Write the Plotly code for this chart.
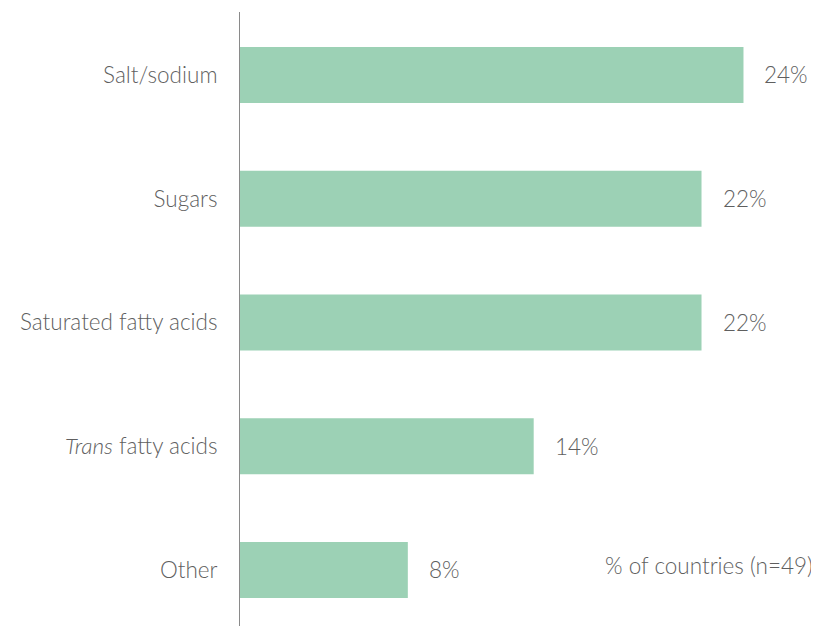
import plotly.graph_objects as go

categories = ["Salt/sodium", "Sugars", "Saturated fatty acids", "<i>Trans</i> fatty acids", "Other"]
values = [24, 22, 22, 14, 8]
value_labels = ["24%", "22%", "22%", "14%", "8%"]
note = "% of countries (n=49)"

bar_color = "#9cd1b5"
text_color = "#5f5f5f"
font_family = "Lato"
fsize = 22.5

fig = go.Figure(go.Bar(
    x=values, y=categories, orientation="h",
    marker=dict(color=bar_color, line=dict(width=0)),
    hoverinfo="skip",
))

for v, lab, cat in zip(values, value_labels, categories):
    fig.add_annotation(x=v, y=cat, text=lab, showarrow=False, xanchor="left",
                       xshift=19, font=dict(size=fsize, color=text_color, family=font_family, weight=300))

fig.add_annotation(x=1, y=0.099, xref="paper", yref="paper", text=note, showarrow=False,
                   xanchor="right", yanchor="middle", xshift=-4,
                   font=dict(size=fsize, color=text_color, family=font_family, weight=300))

fig.update_layout(
    width=811, height=618,
    margin=dict(l=232, r=0, t=4, b=0, autoexpand=False),
    paper_bgcolor="white", plot_bgcolor="white",
    bargap=0.5475,
    showlegend=False,
    font=dict(family=font_family, size=fsize, color=text_color, weight=300),
    xaxis=dict(range=[0, 27.6], visible=False, showgrid=False, zeroline=False),
    yaxis=dict(range=[4.453, -0.509], showline=True, linecolor="#8a8a8a", linewidth=1,
               ticks="", ticklabelstandoff=17, showgrid=False, automargin=False,
               tickfont=dict(size=fsize, color=text_color, family=font_family, weight=300)),
)

fig.write_html("out.html")
